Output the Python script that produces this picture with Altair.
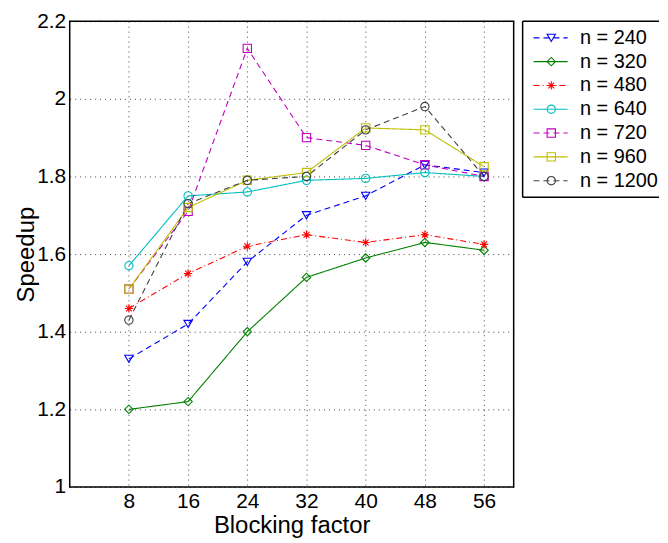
import altair as alt
import pandas as pd

blocking = [8, 16, 24, 32, 40, 48, 56]
series = ["n = 240", "n = 320", "n = 480", "n = 640", "n = 720", "n = 960", "n = 1200"]
s240 = [1.33, 1.42, 1.58, 1.70, 1.75, 1.83, 1.81]
s320 = [1.20, 1.22, 1.40, 1.54, 1.59, 1.63, 1.61]
s480 = [1.46, 1.55, 1.62, 1.65, 1.63, 1.65, 1.625]
s640 = [1.57, 1.75, 1.76, 1.79, 1.795, 1.81, 1.80]
s720 = [1.51, 1.71, 2.13, 1.90, 1.88, 1.83, 1.80]
s960 = [1.51, 1.72, 1.79, 1.81, 1.925, 1.92, 1.825]
s1200 = [1.43, 1.73, 1.79, 1.80, 1.92, 1.98, 1.80]
values = [s240, s320, s480, s640, s720, s960, s1200]
x_ticks = [8, 16, 24, 32, 40, 48, 56]
y_ticks = [1, 1.2, 1.4, 1.6, 1.8, 2, 2.2]

colors = ["#0000ff", "#008000", "#ff0000", "#00bfbf", "#bf00bf", "#bfbf00", "#404040"]
dashes = [[6, 4], [1, 0], [6, 3, 1, 3], [1, 0], [6, 4], [1, 0], [6, 4]]
asterisk = "M-1,0L1,0M0,-1L0,1M-0.7,-0.7L0.7,0.7M-0.7,0.7L0.7,-0.7"
shapes = ["triangle-down", "diamond", asterisk, "circle", "square", "square", "circle"]

rows = []
for name, vals in zip(series, values):
    for b, v in zip(blocking, vals):
        rows.append({"series": name, "bf": b, "speedup": v})
df = pd.DataFrame(rows)

FONT = "Liberation Sans"
color_scale = alt.Scale(domain=series, range=colors)
dash_scale = alt.Scale(domain=series, range=dashes)
shape_scale = alt.Scale(domain=series, range=shapes)

common_axis = dict(grid=True, gridDash=[1, 4], gridColor="#000000", gridOpacity=0.75,
                   ticks=False, domain=False,
                   labelFont=FONT, titleFont=FONT, labelColor="#000", titleColor="#000",
                   titleFontWeight="normal", labelFontSize=21, titleFontSize=24)
xenc = alt.X("bf:Q", scale=alt.Scale(domain=[0, 60], nice=False),
             axis=alt.Axis(values=x_ticks, title="Blocking factor",
                           labelPadding=4, titlePadding=2, **common_axis))
yenc = alt.Y("speedup:Q", scale=alt.Scale(domain=[1, 2.2], nice=False),
             axis=alt.Axis(values=y_ticks, title="Speedup", format="~g",
                           labelPadding=4, titleX=-43, titleBaseline="middle",
                           **common_axis))

base = alt.Chart(df)
lines = base.mark_line(strokeWidth=1.1).encode(
    x=xenc, y=yenc,
    color=alt.Color("series:N", scale=color_scale, legend=None),
    strokeDash=alt.StrokeDash("series:N", scale=dash_scale, legend=None),
    order=alt.Order("bf:Q"),
)
points = base.mark_point(filled=False, size=70, strokeWidth=1.1, opacity=1).encode(
    x="bf:Q", y="speedup:Q",
    color=alt.Color("series:N", scale=color_scale, legend=None),
    shape=alt.Shape("series:N", scale=shape_scale, legend=None),
)
main = alt.layer(lines, points).properties(
    width=446, height=468, view=alt.ViewBackground(stroke="#000000", strokeWidth=1.5))

LW, LH = 137, 177
leg_df = pd.DataFrame({"series": series, "x0": [0.08] * 7, "x1": [0.33] * 7,
                       "xm": [0.21] * 7, "xt": [0.42] * 7})
ly = alt.Y("series:N", sort=series, axis=None,
           scale=alt.Scale(type="point", padding=0.7))
lx = alt.X("x0:Q", scale=alt.Scale(domain=[0, 1]), axis=None)
leg_base = alt.Chart(leg_df)
leg_lines = leg_base.mark_rule(strokeWidth=1.1).encode(
    x=lx, x2="x1:Q", y=ly,
    color=alt.Color("series:N", scale=color_scale, legend=None),
    strokeDash=alt.StrokeDash("series:N", scale=dash_scale, legend=None),
)
leg_pts = leg_base.mark_point(filled=False, size=70, strokeWidth=1.1, opacity=1).encode(
    x=alt.X("xm:Q", scale=alt.Scale(domain=[0, 1]), axis=None), y=ly,
    color=alt.Color("series:N", scale=color_scale, legend=None),
    shape=alt.Shape("series:N", scale=shape_scale, legend=None),
)
leg_text = leg_base.mark_text(align="left", baseline="middle", fontSize=20, font=FONT,
                              color="#000").encode(
    x=alt.X("xt:Q", scale=alt.Scale(domain=[0, 1]), axis=None), y=ly, text="series:N")
frame_df = pd.DataFrame({"k": [0]})
frame = alt.Chart(frame_df)
left_edge = frame.mark_rule(color="#000", strokeWidth=1.5).encode(
    x=alt.value(0), y=alt.value(0), y2=alt.value(LH))
top_edge = frame.mark_rule(color="#000", strokeWidth=1.5).encode(
    x=alt.value(0), x2=alt.value(LW), y=alt.value(0))
bottom_edge = frame.mark_rule(color="#000", strokeWidth=1.5).encode(
    x=alt.value(0), x2=alt.value(LW), y=alt.value(LH))
legend = alt.layer(leg_lines, leg_pts, leg_text, left_edge, top_edge, bottom_edge).properties(
    width=LW, height=LH, view=alt.ViewBackground(stroke=None))

chart = alt.hconcat(main, legend, spacing=7).properties(
    padding={"left": 6, "top": 0, "right": 0, "bottom": 0})

chart.save("out.html", embed_options={"renderer": "svg", "actions": False})
